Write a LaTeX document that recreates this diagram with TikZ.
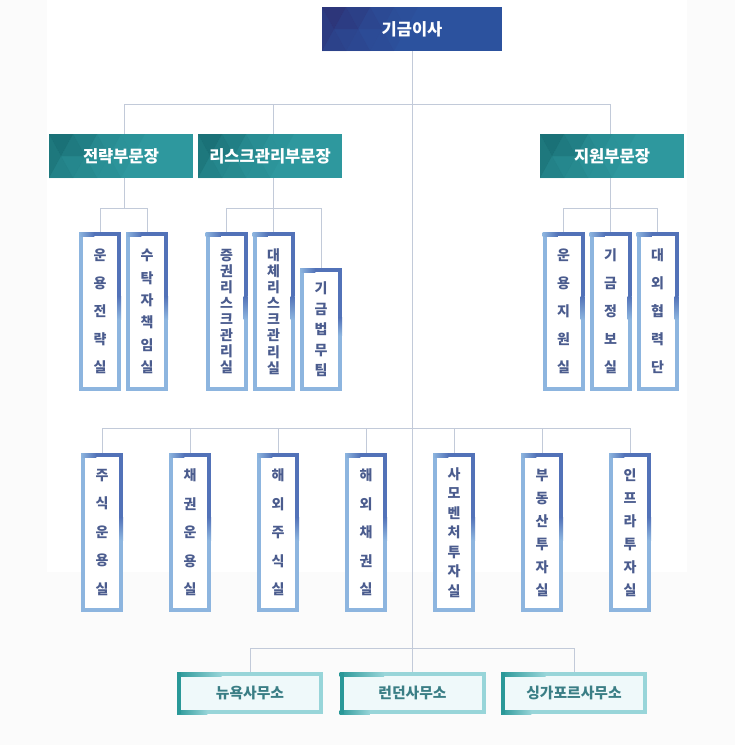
\documentclass[tikz,border=0pt]{standalone}
\usepackage{fontspec}
\newfontfamily\kr{Noto Sans CJK KR}
\usetikzlibrary{calc}
\definecolor{bggray}{HTML}{FBFBFB}
\definecolor{linec}{HTML}{C2CAD9}
\definecolor{topblue}{HTML}{2C529E}
\definecolor{topdark}{HTML}{2E1F5E}
\definecolor{headteal}{HTML}{2E989E}
\definecolor{tealdark}{HTML}{0B5257}
\definecolor{bdark}{HTML}{5272B8}
\definecolor{blight}{HTML}{8DB5DF}
\definecolor{vtext}{HTML}{4B5C8E}
\definecolor{otext}{HTML}{3A7E85}
\definecolor{odark}{HTML}{2A9898}
\definecolor{olight}{HTML}{98D5D9}
\definecolor{ofill}{HTML}{EFF9FA}
\pgfdeclarelayer{back}
\pgfdeclarelayer{mid}
\pgfsetlayers{back,mid,main}
\newcommand\headfill[3]{%
 \fill[#2] (#1.north west) rectangle (#1.south east);
 \begin{scope}[shift={(#1.north west)}]
  \fill[#3,opacity=.55] (0,0) -- (24,0) -- (12,22) -- cycle;
  \fill[#3,opacity=.45] (0,0) -- (12,22) -- (0,44) -- cycle;
  \fill[#3,opacity=.35] (24,0) -- (48,0) -- (36,22) -- cycle;
  \fill[#3,opacity=.42] (12,22) -- (24,0) -- (36,22) -- cycle;
  \fill[#3,opacity=.3] (0,44) -- (12,22) -- (24,44) -- cycle;
  \fill[#3,opacity=.24] (12,22) -- (36,22) -- (24,44) -- cycle;
  \fill[#3,opacity=.2] (24,44) -- (36,22) -- (48,44) -- cycle;
  \fill[#3,opacity=.22] (36,22) -- (48,0) -- (60,22) -- cycle;
  \fill[#3,opacity=.15] (48,0) -- (72,0) -- (60,22) -- cycle;
  \fill[#3,opacity=.12] (36,22) -- (60,22) -- (48,44) -- cycle;
  \fill[#3,opacity=.1] (48,44) -- (60,22) -- (72,44) -- cycle;
  \fill[#3,opacity=.08] (60,22) -- (72,0) -- (84,22) -- cycle;
  \fill[#3,opacity=.06] (72,0) -- (96,0) -- (84,22) -- cycle;
  \fill[#3,opacity=.05] (60,22) -- (84,22) -- (72,44) -- cycle;
 \end{scope}}
\newcommand\deptedge[1]{%
  \shade[left color=blight, right color=bdark] ($(#1.north west)+(-2,-2)$) rectangle ($(#1.north west)!0.35!(#1.north east)+(0,2)$);
  \fill[bdark] ($(#1.north west)!0.35!(#1.north east)+(0,-2)$) rectangle ($(#1.north east)+(2,2)$);
  \fill[bdark] ($(#1.north east)+(-2,-2)$) rectangle ($(#1.north east)!0.4!(#1.south east)+(2,0)$);
  \shade[top color=bdark, bottom color=blight] ($(#1.north east)!0.4!(#1.south east)+(-2,0)$) rectangle ($(#1.north east)!0.55!(#1.south east)+(2,0)$);
}
\newcommand\officeedge[1]{%
  \shade[left color=odark, right color=olight] ($(#1.north west)+(-2,-2)$) rectangle ($(#1.north west)!0.3!(#1.north east)+(0,2)$);
  \shade[left color=odark, right color=olight] ($(#1.south west)+(-2,-2)$) rectangle ($(#1.south west)!0.2!(#1.south east)+(0,2)$);
  \fill[odark] ($(#1.north west)+(-2,-2)$) rectangle ($(#1.south west)+(2,2)$);
}
\tikzset{
  conn/.style={draw=linec, line width=1pt},
  head/.style={minimum width=144pt, minimum height=44pt, inner sep=0pt, outer sep=0pt,
     text=white, font=\kr\bfseries\fontsize{16.5}{19}\selectfont},
  topbox/.style={minimum width=180pt, minimum height=44pt, inner sep=0pt, outer sep=0pt,
     text=white, font=\kr\bfseries\fontsize{16.5}{19}\selectfont},
  dept/.style={draw=blight, line width=4pt, fill=white, minimum width=38pt, minimum height=155pt,
     inner sep=0pt, outer sep=0pt, text=vtext, align=center},
  vsp/.style={font=\kr\bfseries\fontsize{14}{#1}\selectfont},
  office/.style={draw=olight, line width=4pt, fill=ofill, minimum width=142pt, minimum height=38pt,
     inner sep=0pt, outer sep=0pt, text=otext, font=\kr\bfseries\fontsize{14.8}{17}\selectfont},
}
\begin{document}
\begin{tikzpicture}[x=1pt,y=-1pt]
\useasboundingbox (0,0) rectangle (735,745);
\begin{pgfonlayer}{back}
  \fill[bggray] (0,0) rectangle (735,745);
  \fill[white] (47,0) rectangle (687,572);
\end{pgfonlayer}
% top
\node[topbox] (top) at (412,29) {기금이사};
% heads
\node[head] (h1) at (121,156) {전략부문장};
\node[head] (h2) at (270,156) {리스크관리부문장};
\node[head] (h3) at (612,156) {지원부문장};
\begin{pgfonlayer}{mid}
  \headfill{top}{topblue}{topdark}
  \headfill{h1}{headteal}{tealdark}
  \headfill{h2}{headteal}{tealdark}
  \headfill{h3}{headteal}{tealdark}
\end{pgfonlayer}
% level 2
\node[dept, vsp=28] (d1) at (100,311.5) {운\\용\\전\\략\\실};
\node[dept, vsp=22.4] (d2) at (147,311.5) {수\\탁\\자\\책\\임\\실};
\node[dept, vsp=16.1] (d3) at (226.5,311.5) {증\\권\\리\\스\\크\\관\\리\\실};
\node[dept, vsp=16.1] (d4) at (273.5,311.5) {대\\체\\리\\스\\크\\관\\리\\실};
\node[dept, vsp=20.5, minimum height=119pt] (d5) at (321,329.5) {기\\금\\법\\무\\팀};
\node[dept, vsp=28] (g1) at (563.5,311.5) {운\\용\\지\\원\\실};
\node[dept, vsp=28] (g2) at (610.5,311.5) {기\\금\\정\\보\\실};
\node[dept, vsp=28] (g3) at (657.5,311.5) {대\\외\\협\\력\\단};
% level 3
\node[dept, vsp=28.5] (e1) at (102,532.5) {주\\식\\운\\용\\실};
\node[dept, vsp=28.5] (e2) at (190,532.5) {채\\권\\운\\용\\실};
\node[dept, vsp=28.5] (e3) at (278,532.5) {해\\외\\주\\식\\실};
\node[dept, vsp=28.5] (e4) at (366,532.5) {해\\외\\채\\권\\실};
\node[dept, vsp=19.5] (e5) at (454,532.5) {사\\모\\벤\\처\\투\\자\\실};
\node[dept, vsp=23] (e6) at (542,532.5) {부\\동\\산\\투\\자\\실};
\node[dept, vsp=23] (e7) at (630,532.5) {인\\프\\라\\투\\자\\실};
\foreach \n in {d1,d2,d3,d4,d5,g1,g2,g3,e1,e2,e3,e4,e5,e6,e7} {\deptedge{\n}}
% offices
\node[office] (o1) at (250,693) {뉴욕사무소};
\node[office] (o2) at (412.5,693) {런던사무소};
\node[office] (o3) at (574,693) {싱가포르사무소};
\foreach \n in {o1,o2,o3} {\officeedge{\n}}
% bus coordinates
\coordinate (bus1) at (124,104);
\coordinate (bus1r) at (610,104);
\coordinate (s1) at (124,208);
\coordinate (s2) at (273,208);
\coordinate (s3) at (610,208);
\coordinate (l3) at (0,428);
\coordinate (ob) at (0,648);
\begin{pgfonlayer}{back}
  \draw[conn] (top.south) -- (top.south |- ob);
  \draw[conn] (bus1) -- (bus1r);
  \draw[conn] (bus1) -- (bus1 |- h1.north);
  \draw[conn] (bus1 -| s2) -- (s2 |- h2.north);
  \draw[conn] (bus1r) -- (bus1r |- h3.north);
  \draw[conn] (h1.south -| s1) -- (s1);
  \draw[conn] (h2.south -| s2) -- (s2);
  \draw[conn] (h3.south -| s3) -- (s3);
  \draw[conn] (d1.north |- s1) -- (d2.north |- s1);
  \draw[conn] (d3.north |- s2) -- (d5.north |- s2);
  \draw[conn] (g1.north |- s3) -- (g3.north |- s3);
  \foreach \n/\s in {d1/s1,d2/s1,d3/s2,d4/s2,d5/s2,g1/s3,g2/s3,g3/s3} {\draw[conn] (\n.north |- \s) -- (\n.north);}
  \draw[conn] (e1.north |- l3) -- (e7.north |- l3);
  \foreach \n in {e1,e2,e3,e4,e5,e6,e7} {\draw[conn] (\n.north |- l3) -- (\n.north);}
  \draw[conn] (o1.north |- ob) -- (o3.north |- ob);
  \foreach \n in {o1,o2,o3} {\draw[conn] (\n.north |- ob) -- (\n.north);}
\end{pgfonlayer}
\end{tikzpicture}
\end{document}
